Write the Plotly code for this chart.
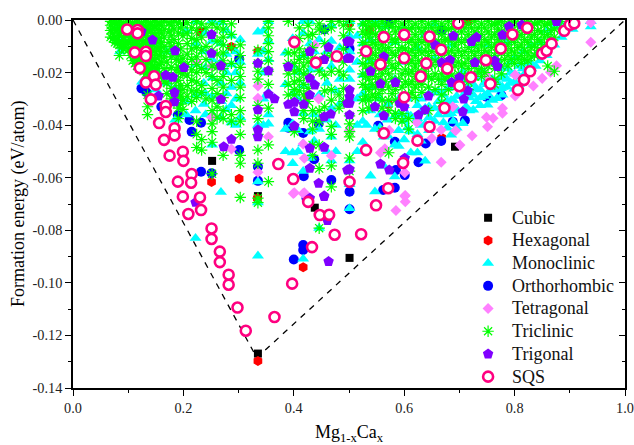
import plotly.graph_objects as go

x_ticks = [0.0, 0.2, 0.4, 0.6, 0.8, 1.0]
x_ticktext = ["0.0", "0.2", "0.4", "0.6", "0.8", "1.0"]
y_ticks = [0.0, -0.02, -0.04, -0.06, -0.08, -0.10, -0.12, -0.14]
y_ticktext = ["0.00", "-0.02", "-0.04", "-0.06", "-0.08", "-0.10", "-0.12", "-0.14"]

hull_x = [0.0, 0.333, 1.0]
hull_y = [0.0, -0.1285, 0.0]

cubic_x = [0.252, 0.335, 0.501, 0.438, 0.692, 0.232, 0.335]
cubic_y = [-0.0536, -0.1269, -0.0905, -0.0714, -0.0482, -0.0044, -0.0670]

hexagonal_x = [0.335, 0.417, 0.334, 0.251, 0.301, 0.287, 0.230, 0.668, 0.716, 0.537, 0.335, 0.501, 0.424, 0.571]
hexagonal_y = [-0.1297, -0.0941, -0.0678, -0.0616, -0.0604, -0.0102, -0.0044, -0.0448, -0.0006, -0.0038, -0.0120, -0.0012, -0.0290, -0.0320]

orthorhombic_x = [0.400, 0.417, 0.417, 0.667, 0.626, 0.585, 0.583, 0.562, 0.583, 0.688, 0.749, 0.776, 0.501, 0.572, 0.668,
                  0.232, 0.301, 0.232, 0.215, 0.124, 0.418, 0.455, 0.390, 0.390, 0.468, 0.251, 0.301, 0.335, 0.423, 0.501,
                  0.133, 0.160, 0.190, 0.211, 0.417, 0.445, 0.601, 0.710, 0.639, 0.553, 0.501, 0.335, 0.437]
orthorhombic_y = [-0.0911, -0.0856, -0.0875, -0.0460, -0.0541, -0.0571, -0.0638, -0.0647, -0.0463, -0.0387, -0.0292, -0.0286, -0.0653, -0.0013, -0.0041,
                  -0.0577, -0.0148, -0.0391, -0.0425, -0.0260, -0.0594, -0.0036, -0.0391, -0.0410, -0.0609, -0.0583, -0.0495, -0.0558, -0.0678, -0.0720,
                  -0.0275, -0.0330, -0.0362, -0.0380, -0.0430, -0.0395, -0.0590, -0.0382, -0.0470, -0.0402, -0.0110, -0.0612, -0.0530]

tetragonal_x = [0.938, 0.938, 0.876, 0.865, 0.850, 0.834, 0.801, 0.801, 0.778, 0.778, 0.761, 0.749, 0.751, 0.723, 0.701, 0.693,
                0.667, 0.650, 0.667, 0.601, 0.601, 0.557, 0.602, 0.602, 0.585, 0.399, 0.417, 0.335, 0.354, 0.401, 0.419, 0.419,
                0.417, 0.468, 0.335, 0.287, 0.251, 0.335, 0.438, 0.573, 0.623, 0.565, 0.224, 0.251, 0.501, 0.688, 0.749, 0.445]
tetragonal_y = [-0.0085, -0.0010, -0.0174, -0.0199, -0.0222, -0.0251, -0.0209, -0.0289, -0.0336, -0.0355, -0.0374, -0.0370, -0.0406, -0.0440, -0.0476, -0.0421,
                -0.0541, -0.0450, -0.0418, -0.0581, -0.0670, -0.0505, -0.0668, -0.0691, -0.0725, -0.0660, -0.0660, -0.0579, -0.0444, -0.0657, -0.0657, -0.0526,
                -0.0472, -0.0516, -0.0251, -0.0491, -0.0370, -0.0298, -0.0095, -0.0420, -0.0390, -0.0490, -0.0160, -0.0175, -0.0420, -0.0330, -0.0210, -0.0300]

trigonal_x = [0.251, 0.144, 0.185, 0.201, 0.168, 0.181, 0.184, 0.155, 0.184, 0.251, 0.268, 0.354, 0.335, 0.390, 0.429, 0.455, 0.463, 0.429,
              0.438, 0.429, 0.354, 0.365, 0.268, 0.335, 0.390, 0.401, 0.418, 0.401, 0.455, 0.467, 0.401, 0.335, 0.335, 0.287, 0.273, 0.455,
              0.429, 0.429, 0.445, 0.455, 0.497, 0.497, 0.497, 0.497, 0.124, 0.501, 0.501, 0.501, 0.501, 0.501, 0.501, 0.501, 0.539, 0.563,
              0.557, 0.584, 0.547, 0.563, 0.592, 0.600, 0.626, 0.638, 0.644, 0.656, 0.689, 0.722, 0.731, 0.778, 0.790, 0.813, 0.876, 0.728,
              0.764, 0.769, 0.668, 0.683, 0.686, 0.700, 0.715, 0.708, 0.706, 0.557, 0.573, 0.601, 0.461, 0.463, 0.455, 0.429, 0.251, 0.222]
trigonal_y = [-0.0055, -0.0076, -0.0117, -0.0181, -0.0210, -0.0218, -0.0276, -0.0289, -0.0311, -0.0127, -0.0174, -0.0193, -0.0165, -0.0178, -0.0120, -0.0150, -0.0104, -0.0222,
              -0.0247, -0.0285, -0.0282, -0.0300, -0.0302, -0.0342, -0.0321, -0.0313, -0.0321, -0.0349, -0.0368, -0.0358, -0.0403, -0.0418, -0.0444, -0.0454, -0.0482, -0.0484,
              -0.0488, -0.0564, -0.0621, -0.0672, -0.0082, -0.0146, -0.0317, -0.0571, -0.0044, -0.0083, -0.0146, -0.0266, -0.0292, -0.0317, -0.0361, -0.0568, -0.0195, -0.0140,
              -0.0243, -0.0238, -0.0330, -0.0364, -0.0317, -0.0330, -0.0361, -0.0342, -0.0289, -0.0095, -0.0061, -0.0082, -0.0066, -0.0057, -0.0025, -0.0019, -0.0006, -0.0162,
              -0.0155, -0.0177, -0.0162, -0.0152, -0.0238, -0.0219, -0.0269, -0.0301, -0.0349, -0.0548, -0.0571, -0.0526, -0.0763, -0.0919, -0.0669, -0.0678, -0.0833, -0.0694]

sqs_x = [0.199, 0.230, 0.209, 0.232, 0.251, 0.251, 0.266, 0.266, 0.282, 0.282, 0.298, 0.313, 0.365, 0.397, 0.433, 0.474, 0.522, 0.549, 0.426, 0.447, 0.464,
         0.098, 0.117, 0.117, 0.112, 0.132, 0.132, 0.121, 0.147, 0.132, 0.150, 0.141, 0.168, 0.168, 0.156, 0.184, 0.184, 0.165, 0.175, 0.199, 0.200, 0.215, 0.190, 0.214,
         0.401, 0.440, 0.478, 0.372, 0.399, 0.501, 0.531, 0.563, 0.600, 0.646, 0.698, 0.557, 0.600, 0.640, 0.667, 0.678, 0.630, 0.700, 0.721, 0.748, 0.775, 0.796, 0.823,
         0.756, 0.600, 0.673, 0.646, 0.563, 0.624, 0.531, 0.598, 0.571, 0.828, 0.817, 0.806, 0.850, 0.858, 0.867, 0.890, 0.900, 0.908]
sqs_y = [-0.0672, -0.0675, -0.0738, -0.0723, -0.0793, -0.0833, -0.0881, -0.0921, -0.0969, -0.1007, -0.1094, -0.1182, -0.1130, -0.1003, -0.0864, -0.0817, -0.0815, -0.0705, -0.0692, -0.0742, -0.0741,
         -0.0036, -0.0038, -0.0051, -0.0123, -0.0121, -0.0137, -0.0183, -0.0214, -0.0238, -0.0246, -0.0302, -0.0327, -0.0350, -0.0392, -0.0412, -0.0439, -0.0456, -0.0516, -0.0501, -0.0536, -0.0586, -0.0615, -0.0619,
         -0.0084, -0.0162, -0.0138, -0.0548, -0.0605, -0.0616, -0.0119, -0.0065, -0.0056, -0.0063, -0.0013, -0.0169, -0.0145, -0.0165, -0.0113, -0.0185, -0.0215, -0.0252, -0.0218, -0.0153, -0.0109, -0.0055, -0.0030,
         -0.0243, -0.0294, -0.0335, -0.0406, -0.0431, -0.0459, -0.0495, -0.0544, -0.0640, -0.0195, -0.0228, -0.0266, -0.0128, -0.0117, -0.0090, -0.0041, -0.0018, -0.0013]

monoclinic_columns = {
    0.085: [-0.002, -0.007, -0.012], 0.125: [-0.004, -0.012, -0.0235], 0.15: [-0.009, -0.019, -0.0265],
    0.17: [-0.012, -0.024, -0.035], 0.185: [-0.026, -0.038], 0.205: [-0.004, -0.031, -0.036],
    0.222: [-0.0005, -0.009, -0.017, -0.0285, -0.0345, -0.0830], 0.237: [-0.012, -0.024, -0.032], 0.24: [-0.005, -0.018, -0.028, -0.036],
    0.252: [-0.0002, -0.008, -0.015, -0.022, -0.029, -0.036, -0.0475], 0.268: [-0.001, -0.009, -0.016, -0.024, -0.031, -0.037, -0.0655],
    0.278: [-0.004, -0.013, -0.02, -0.028, -0.034], 0.287: [-0.006, -0.017, -0.0255, -0.0325, -0.039], 0.295: [-0.012, -0.02, -0.03, -0.04], 0.303: [-0.0075, -0.016, -0.024, -0.037],
    0.335: [-0.0045, -0.013, -0.040, -0.0615, -0.0897, -0.0695], 0.345: [-0.004, -0.012, -0.02, -0.03, -0.04], 0.354: [-0.0005, -0.008, -0.015, -0.0275, -0.036, -0.0395],
    0.385: [-0.0125, -0.0245, -0.0415, -0.050], 0.398: [-0.007, -0.0175, -0.028, -0.0395, -0.0505, -0.0545], 0.408: [-0.02, -0.03, -0.042, -0.05],
    0.417: [-0.0005, -0.005, -0.0135, -0.025, -0.0355, -0.047, -0.0575, -0.0909], 0.429: [-0.0005, -0.009, -0.019, -0.0425, -0.0525], 0.437: [-0.012, -0.024, -0.036, -0.046],
    0.446: [-0.0075, -0.0185, -0.0285, -0.0415, -0.0792], 0.46: [-0.012, -0.024, -0.038, -0.05], 0.468: [-0.002, -0.008, -0.0175, -0.0335, -0.0445, -0.0535], 0.476: [-0.015, -0.027, -0.04, -0.05],
    0.483: [-0.0105, -0.0225, -0.032], 0.501: [-0.0005, -0.006, -0.012, -0.019, -0.0225, -0.0415, -0.0535, -0.0625, -0.0717], 0.515: [-0.006, -0.016, -0.03, -0.04, -0.05],
    0.525: [-0.0015, -0.009, -0.021, -0.028, -0.0385, -0.0465], 0.532: [-0.011, -0.03, -0.04], 0.539: [-0.0075, -0.0155, -0.0255, -0.0345, -0.0593],
    0.547: [-0.0005, -0.0415, -0.0653], 0.556: [-0.03, -0.036, -0.041], 0.563: [-0.0025, -0.0175, -0.0445, -0.0555], 0.57: [-0.032, -0.038, -0.044], 0.583: [-0.0085, -0.0225, -0.0365, -0.0475, -0.0596],
    0.59: [-0.03, -0.036, -0.042, -0.048], 0.6: [-0.003, -0.016, -0.0325, -0.0455, -0.0385], 0.606: [-0.03, -0.036, -0.041], 0.612: [-0.0365, -0.0505, -0.0425], 0.624: [-0.0105, -0.0325, -0.0435, -0.0505, -0.0375],
    0.63: [-0.03, -0.035, -0.04, -0.046], 0.638: [-0.0055, -0.0215, -0.0395, -0.0536, -0.0335], 0.645: [-0.028, -0.033, -0.037, -0.042], 0.655: [-0.0015, -0.0145, -0.0275, -0.0385, -0.0335],
    0.662: [-0.027, -0.031, -0.036], 0.671: [-0.0225, -0.032, -0.039, -0.0285], 0.678: [-0.026, -0.031, -0.036, -0.041],
    0.685: [-0.0095, -0.0255, -0.0355, -0.0437, -0.0305], 0.689: [-0.0305, -0.0385, -0.0345], 0.695: [-0.025, -0.029, -0.034, -0.041], 0.706: [-0.0195, -0.029, -0.0393, -0.0345, -0.0255],
    0.712: [-0.023, -0.027, -0.033], 0.718: [-0.0245, -0.0345, -0.0295], 0.725: [-0.0095, -0.0285, -0.0342, -0.0245], 0.73: [-0.022, -0.026, -0.031], 0.738: [-0.0195, -0.0265, -0.0325, -0.0295],
    0.745: [-0.02, -0.024, -0.029], 0.751: [-0.0095, -0.0215, -0.0323, -0.0280, -0.0245],
    0.76: [-0.0225, -0.0265, -0.0305], 0.768: [-0.0155, -0.0235, -0.0298, -0.0265], 0.775: [-0.018, -0.022, -0.026], 0.778: [-0.0215, -0.0255, -0.0285], 0.786: [-0.0085, -0.0185, -0.0254, -0.0225],
    0.793: [-0.016, -0.02, -0.024], 0.8: [-0.0145, -0.0205, -0.0262, -0.0235],
    0.808: [-0.0175, -0.0215, -0.0245], 0.815: [-0.012, -0.0185, -0.0215], 0.822: [-0.0165, -0.0195],
    0.83: [-0.0095, -0.0165, -0.0185], 0.838: [-0.0135, -0.0175], 0.846: [-0.0085, -0.0155], 0.858: [-0.004, -0.0135], 0.872: [-0.0025, -0.0095], 0.885: [-0.0015, -0.0065],
    0.905: [-0.0005, -0.0035], 0.938: [-0.0005, -0.0025],
}

triclinic_columns = {
    0.068: [-0.0005, -0.002, -0.004, -0.0065], 0.072: [-0.001, -0.003, -0.005, -0.007], 0.076: [-0.0008, -0.0035, -0.0065, -0.0085], 0.08: [-0.0015, -0.004, -0.0075, -0.009],
    0.084: [-0.0005, -0.003, -0.006, -0.0095, -0.0135], 0.088: [-0.002, -0.0045, -0.008, -0.0105], 0.092: [-0.001, -0.0035, -0.0065, -0.0095, -0.011],
    0.096: [-0.002, -0.005, -0.008, -0.0105], 0.1: [-0.0005, -0.003, -0.0055, -0.0085, -0.0115], 0.104: [-0.002, -0.0045, -0.0075, -0.0105, -0.0135],
    0.108: [-0.001, -0.0035, -0.0065, -0.0095, -0.012, -0.0155], 0.112: [-0.002, -0.005, -0.008, -0.0105, -0.0135, -0.0165],
    0.116: [-0.0005, -0.003, -0.006, -0.009, -0.012, -0.015, -0.0175], 0.12: [-0.002, -0.0045, -0.0075, -0.0105, -0.0135, -0.0165, -0.0185], 0.124: [-0.001, -0.0035, -0.0065, -0.0095, -0.0125, -0.0155, -0.0185],
    0.128: [-0.002, -0.005, -0.008, -0.011, -0.014, -0.017, -0.0195], 0.132: [-0.0005, -0.003, -0.006, -0.0085, -0.0115, -0.0145, -0.0175, -0.0205], 0.136: [-0.002, -0.0045, -0.0075, -0.0105, -0.0135, -0.0165, -0.0195, -0.0215],
    0.14: [-0.001, -0.004, -0.007, -0.01, -0.013, -0.016, -0.019, -0.0215], 0.144: [-0.002, -0.005, -0.008, -0.0115, -0.0145, -0.0175, -0.0205],
    0.148: [-0.0005, -0.003, -0.006, -0.009, -0.012, -0.015, -0.018, -0.0215], 0.152: [-0.002, -0.005, -0.008, -0.011, -0.0145, -0.0185], 0.156: [-0.001, -0.004, -0.007, -0.0105, -0.0135, -0.017, -0.0205],
    0.135: [-0.0285, -0.033, -0.036], 0.16: [-0.002, -0.005, -0.0085, -0.012, -0.016, -0.0215], 0.165: [-0.0005, -0.0035, -0.0065, -0.01, -0.014, -0.0185, -0.0235],
    0.17: [-0.012, -0.016, -0.02, -0.024, -0.028], 0.174: [-0.001, -0.0045, -0.0085],
    0.178: [-0.002, -0.006, -0.01, -0.014, -0.018, -0.022, -0.026, -0.03],
    0.183: [-0.0005, -0.0035, -0.0075, -0.0115, -0.0285, -0.0315], 0.187: [-0.015, -0.019, -0.023, -0.027],
    0.191: [-0.001, -0.005, -0.009, -0.0135, -0.018, -0.023, -0.0265, -0.0295, -0.0335, -0.0375],
    0.195: [-0.003, -0.011, -0.016, -0.02, -0.025, -0.029, -0.032],
    0.199: [-0.0015, -0.006, -0.0145, -0.0205, -0.0265, -0.0305, -0.034],
    0.207: [-0.001, -0.005, -0.009, -0.013, -0.017, -0.021, -0.025, -0.029],
    0.215: [-0.003, -0.007, -0.011, -0.015, -0.019, -0.023, -0.027, -0.031],
    0.224: [-0.0005, -0.004, -0.0075, -0.0105, -0.014, -0.017, -0.02, -0.0235, -0.027, -0.0295, -0.0385, -0.0435, -0.0485],
    0.233: [-0.0015, -0.0065, -0.0115, -0.0185, -0.025, -0.0275, -0.0455, -0.0495],
    0.241: [-0.003, -0.01, -0.015, -0.02, -0.03],
    0.252: [-0.0015, -0.006, -0.0115, -0.0175, -0.0215, -0.026, -0.0305, -0.0345, -0.0395, -0.0425, -0.0465, -0.0585],
    0.261: [-0.003, -0.008, -0.013, -0.018, -0.023, -0.028, -0.033, -0.037],
    0.272: [-0.0005, -0.0035, -0.0065, -0.0095, -0.0125, -0.0155, -0.0185, -0.0215, -0.0255, -0.0295, -0.0345, -0.0375, -0.0515],
    0.287: [-0.0015, -0.0055, -0.0105, -0.0165, -0.023, -0.036, -0.0385],
    0.303: [-0.0095, -0.0135, -0.018, -0.0215, -0.0255, -0.0295, -0.0345, -0.0385, -0.0435, -0.0515, -0.0545, -0.0675],
    0.335: [-0.0115, -0.0165, -0.0195, -0.0225, -0.0325, -0.0375, -0.0435, -0.0495, -0.0545, -0.0678, -0.0695],
    0.354: [-0.0005, -0.003, -0.006, -0.009, -0.012, -0.0155, -0.0195, -0.0245, -0.0335, -0.0475, -0.0615],
    0.39: [-0.0005, -0.0125, -0.0165, -0.0205, -0.0245, -0.0285],
    0.401: [-0.0125, -0.0165, -0.0195, -0.0235, -0.0265, -0.0285, -0.0425],
    0.41: [-0.003, -0.007, -0.011, -0.015, -0.019, -0.023, -0.027],
    0.418: [-0.0135, -0.0175, -0.0205, -0.0245, -0.0285, -0.0315, -0.0345, -0.0375],
    0.426: [-0.002, -0.006, -0.012, -0.016, -0.021, -0.026, -0.031],
    0.434: [-0.0055, -0.0105, -0.0145, -0.0345, -0.0385, -0.0415, -0.0475, -0.0515],
    0.446: [-0.0015, -0.0035, -0.0195, -0.0345, -0.0385, -0.0475, -0.0565, -0.0792],
    0.456: [-0.004, -0.009, -0.014, -0.021, -0.027, -0.033],
    0.468: [-0.0005, -0.003, -0.0135, -0.0195, -0.0265, -0.0305, -0.0405, -0.0435, -0.0555, -0.0635],
    0.482: [-0.0005, -0.0195, -0.0285, -0.0335],
    0.49: [-0.002, -0.006, -0.011, -0.016, -0.021, -0.026, -0.031],
    0.501: [-0.0005, -0.0035, -0.0365, -0.0395, -0.0425, -0.0445, -0.0525, -0.0575],
    0.525: [-0.0015, -0.0045, -0.0085, -0.0125, -0.0165, -0.0205, -0.0245, -0.0305, -0.0345],
    0.53: [-0.002, -0.0055, -0.0095, -0.0135, -0.0175, -0.0215, -0.0255, -0.029],
    0.536: [-0.0005, -0.0035, -0.0065, -0.0105, -0.0145, -0.0185, -0.0225, -0.0265, -0.0305, -0.0335],
    0.542: [-0.002, -0.005, -0.0085, -0.0125, -0.0165, -0.0205, -0.0245, -0.0285],
    0.548: [-0.0015, -0.0055, -0.0095, -0.0135, -0.0175, -0.0215, -0.0255, -0.0295],
    0.554: [-0.0025, -0.0075, -0.011, -0.015, -0.0185, -0.0225, -0.028],
    0.56: [-0.0005, -0.0045, -0.0095, -0.0125, -0.0165, -0.0205, -0.0265, -0.0305, -0.0335, -0.0425],
    0.566: [-0.0025, -0.0075, -0.0115, -0.0145, -0.0185, -0.0235],
    0.572: [-0.0015, -0.0055, -0.0105, -0.0155, -0.0205, -0.0255, -0.0305, -0.0345, -0.0505],
    0.578: [-0.0025, -0.0075, -0.0125, -0.0175, -0.0225, -0.028],
    0.584: [-0.0005, -0.0045, -0.0085, -0.0135, -0.0185, -0.0265, -0.0305, -0.0355, -0.0375],
    0.59: [-0.003, -0.007, -0.0115, -0.0165, -0.0225],
    0.596: [-0.0015, -0.0055, -0.0105, -0.0205, -0.0255, -0.0355, -0.0385],
    0.602: [-0.003, -0.0065, -0.011, -0.015, -0.019, -0.0235],
    0.608: [-0.0005, -0.0035, -0.0085, -0.0125, -0.0165, -0.0205, -0.0245, -0.0285, -0.0375, -0.0415],
    0.614: [-0.003, -0.0075, -0.0115, -0.0155, -0.0195, -0.0235, -0.0275],
    0.62: [-0.0015, -0.0055, -0.0095, -0.0135, -0.0175, -0.0215, -0.0255, -0.0295],
    0.626: [-0.003, -0.0075, -0.0115, -0.0155, -0.0195, -0.0235],
    0.632: [-0.0005, -0.0045, -0.0085, -0.0125, -0.0165, -0.0205, -0.0245, -0.0275],
    0.638: [-0.003, -0.0075, -0.0115, -0.0155, -0.0195],
    0.644: [-0.0015, -0.0055, -0.0095, -0.0135, -0.0175, -0.0215, -0.0255, -0.0345],
    0.65: [-0.003, -0.0075, -0.012, -0.017, -0.0225],
    0.656: [-0.0005, -0.0045, -0.0105, -0.0155, -0.0205, -0.0265],
    0.662: [-0.003, -0.008, -0.012, -0.017, -0.0225],
    0.668: [-0.0015, -0.0055, -0.0095, -0.0135, -0.0205, -0.0245, -0.0285, -0.0315],
    0.674: [-0.003, -0.0075, -0.0115, -0.0175, -0.0225],
    0.68: [-0.0005, -0.0035, -0.0075, -0.0125, -0.0215, -0.0265],
    0.686: [-0.003, -0.0075, -0.0115, -0.016, -0.021],
    0.692: [-0.0015, -0.0055, -0.0095, -0.0135, -0.0175, -0.0245],
    0.698: [-0.003, -0.0075, -0.0115, -0.016, -0.0205],
    0.704: [-0.0005, -0.0045, -0.0085, -0.0135, -0.0175, -0.0215],
    0.71: [-0.003, -0.0075, -0.012, -0.0165, -0.0215],
    0.716: [-0.0015, -0.0055, -0.0105, -0.0145, -0.0185, -0.0235, -0.0265],
    0.722: [-0.003, -0.0075, -0.012, -0.0165, -0.021],
    0.728: [-0.0005, -0.0045, -0.0095, -0.0135, -0.0175, -0.0215],
    0.734: [-0.003, -0.0075, -0.0115, -0.0155, -0.0195],
    0.74: [-0.0015, -0.0055, -0.0095, -0.0135, -0.0185, -0.0215],
    0.746: [-0.003, -0.0075, -0.0115, -0.0155, -0.02],
    0.752: [-0.0005, -0.0045, -0.0085, -0.0125, -0.0175],
    0.758: [-0.002, -0.0065, -0.0105, -0.015],
    0.764: [-0.0015, -0.0055, -0.0095, -0.0135, -0.0185, -0.0225, -0.0245],
    0.77: [-0.001, -0.0035, -0.0075, -0.0115, -0.0155],
    0.776: [-0.0005, -0.0045, -0.0085, -0.0125, -0.0175, -0.0205],
    0.782: [-0.002, -0.0065, -0.011, -0.015],
    0.788: [-0.0015, -0.0055, -0.0095, -0.0135, -0.0175],
    0.794: [-0.001, -0.004, -0.0075, -0.0115, -0.015],
    0.8: [-0.0005, -0.0045, -0.0085, -0.0125, -0.0165],
    0.806: [-0.002, -0.0065, -0.0105, -0.0145],
    0.812: [-0.0015, -0.0055, -0.0095, -0.0135, -0.0165],
    0.818: [-0.001, -0.004, -0.0075, -0.0115, -0.015],
    0.824: [-0.0005, -0.0045, -0.0085, -0.0125, -0.0155],
    0.83: [-0.002, -0.0065, -0.0105, -0.014],
    0.836: [-0.0015, -0.0055, -0.0095, -0.0135],
    0.842: [-0.001, -0.004, -0.0075, -0.0115],
    0.848: [-0.0005, -0.0045, -0.0085, -0.0115],
    0.854: [-0.002, -0.0065, -0.0105],
    0.86: [-0.0015, -0.0055, -0.0095, -0.0175],
    0.866: [-0.001, -0.004, -0.0075],
    0.872: [-0.0005, -0.0035, -0.0065, -0.0195],
    0.884: [-0.0005, -0.003],
}


def expand(columns):
    xs, ys = [], []
    for x, values in columns.items():
        for y in values:
            xs.append(x)
            ys.append(y)
    return xs, ys


monoclinic_x, monoclinic_y = expand(monoclinic_columns)
triclinic_x, triclinic_y = expand(triclinic_columns)

series = [
    ("Cubic", cubic_x, cubic_y, dict(symbol="square", size=8, color="#000000"), 1),
    ("Hexagonal", hexagonal_x, hexagonal_y, dict(symbol="hexagon", size=10, color="#ff0000"), 2),
    ("Orthorhombic", orthorhombic_x, orthorhombic_y, dict(symbol="circle", size=10, color="#0000ff"), 4),
    ("Monoclinic", monoclinic_x, monoclinic_y, dict(symbol="triangle-up", size=10.5, color="#00ffff"), 3),
    ("Tetragonal", tetragonal_x, tetragonal_y, dict(symbol="diamond", size=8.5, color="#ff80ff"), 5),
    ("Triclinic", triclinic_x, triclinic_y,
     dict(symbol="asterisk-open", size=9.5, color="#00ff00", line=dict(color="#00ff00", width=1.2)), 6),
    ("Trigonal", trigonal_x, trigonal_y, dict(symbol="pentagon", size=11, color="#8000ff"), 7),
    ("SQS", sqs_x, sqs_y,
     dict(symbol="circle", size=10, color="#ffffff", line=dict(color="#ff0080", width=2.6)), 8),
]

fig = go.Figure()
fig.add_trace(go.Scatter(x=hull_x, y=hull_y, mode="lines", showlegend=False, hoverinfo="skip",
                         line=dict(color="#000000", width=1.3, dash="6px,6px")))
for name, xs, ys, marker, rank in series:
    fig.add_trace(go.Scatter(x=xs, y=ys, mode="markers", marker=marker, legendrank=rank,
                             name=f"<span style='font-size:18px'>{name}</span>"))
# empty trace keeps the inward-ticked top and right axes on the page
fig.add_trace(go.Scatter(x=[], y=[], xaxis="x2", yaxis="y2", showlegend=False, hoverinfo="skip"))

line_style = dict(showgrid=False, zeroline=False, showline=True, linecolor="#000000", linewidth=1.5,
                  tickwidth=1.3, tickcolor="#000000", ticklen=6, automargin=False)
label_font = dict(family="Liberation Serif", size=14.3, color="#222222")
minor_x = dict(dtick=0.1, ticklen=3.5, tickwidth=1.3, tickcolor="#000000")
minor_y = dict(dtick=0.01, ticklen=3.5, tickwidth=1.3, tickcolor="#000000")

fig.update_layout(
    width=634, height=445, autosize=False,
    margin=dict(l=73, r=9, t=20, b=57),
    paper_bgcolor="#ffffff", plot_bgcolor="#ffffff",
    font=dict(family="Liberation Serif", color="#000000"),
    xaxis=dict(range=[0, 1], tickvals=x_ticks, ticktext=x_ticktext, ticks="outside", tickfont=label_font,
               minor=dict(ticks="outside", **minor_x),
               title=dict(text="Mg<sub>1-x</sub>Ca<sub>x</sub>", font=dict(size=18)), **line_style),
    yaxis=dict(range=[-0.14, 0], tickvals=y_ticks, ticktext=y_ticktext, ticks="outside", tickfont=label_font,
               minor=dict(ticks="outside", **minor_y), **line_style),
    xaxis2=dict(range=[0, 1], overlaying="x", side="top", anchor="y2", tickvals=x_ticks, ticks="inside",
                showticklabels=False, minor=dict(ticks="inside", **minor_x), **line_style),
    yaxis2=dict(range=[-0.14, 0], overlaying="y", side="right", anchor="x2", tickvals=y_ticks, ticks="inside",
                showticklabels=False, minor=dict(ticks="inside", **minor_y), **line_style),
    legend=dict(x=0.7085, y=0.507, xanchor="left", yanchor="top", bgcolor="rgba(0,0,0,0)",
                font=dict(family="Liberation Serif", size=15.15, color="#111111"),
                itemwidth=38, itemclick=False, itemdoubleclick=False),
    annotations=[dict(text="Formation energy (eV/atom)", xref="paper", yref="paper", x=-0.0996, y=0.5,
                      textangle=-90, showarrow=False, xanchor="center", yanchor="middle",
                      font=dict(family="Liberation Serif", size=18, color="#000000"))],
)
fig.write_html("out.html", post_script="document.body.style.margin='0';", config={"displayModeBar": False})
